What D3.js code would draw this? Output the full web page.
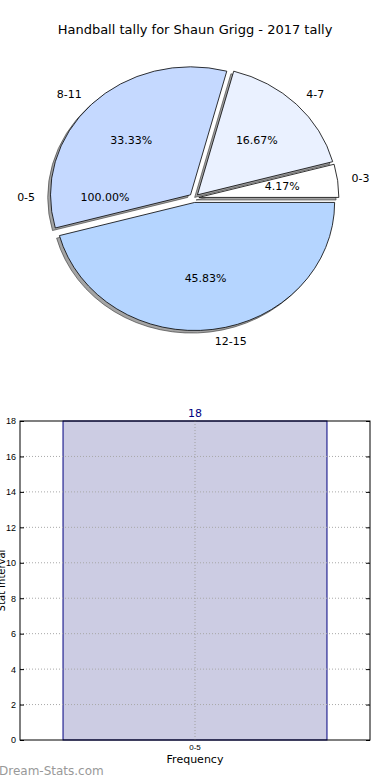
<!DOCTYPE html>
<html>
<head>
<meta charset="utf-8">
<script src="https://cdn.jsdelivr.net/npm/d3@7"></script>
<style>
  body { margin: 0; background: #fff; }
  svg { display: block; font-family: "DejaVu Sans", sans-serif; }
</style>
</head>
<body>
<svg id="svg" width="390" height="780"></svg>
<script>
// pie data
const title = "Handball tally for Shaun Grigg - 2017 tally";
const pieLabels = ["0-3", "4-7", "8-11", "12-15"];
const pieCounts = [1, 4, 8, 11];
const pieColors = ["#ffffff", "#eaf1ff", "#c5d9ff", "#b5d5ff"];
// second (empty) pie that only leaves its text behind
const ghostLabels = ["0-5"];
const ghostCounts = [18];

// bar data
const barCategories = ["0-5"];
const barValues = [18];
const yTicks = [0, 2, 4, 6, 8, 10, 12, 14, 16, 18];

let svg = d3.select("#svg");
let width = +svg.attr("width");

svg.append("text")
  .attr("x", width / 2)
  .attr("y", 30)
  .attr("text-anchor", "middle")
  .attr("dominant-baseline", "middle")
  .style("font-size", "13px")
  .text(title);

// pie geometry: stretched like the original (no equal aspect)
const cx = 194, cy = 198, rx = 140, ry = 128;
const explode = 0.035;

// angles run counter-clockwise from 3 o'clock like matplotlib
let pie = d3.pie().sort(null).startAngle(Math.PI / 2).endAngle(Math.PI / 2 - 2 * Math.PI);
let arc = d3.arc().innerRadius(0).outerRadius(1);

function pieLayer(counts, labels) {
  let total = d3.sum(counts);
  return pie(counts).map((d, i) => {
    let m = (d.startAngle + d.endAngle) / 2;
    let ux = Math.sin(m), uy = -Math.cos(m);
    return {
      arc: d,
      label: labels[i],
      pct: (100 * counts[i] / total).toFixed(2) + "%",
      ox: cx + explode * rx * ux,
      oy: cy + explode * ry * uy,
      ux: ux,
      uy: uy,
      i: i
    };
  });
}

let slices = pieLayer(pieCounts, pieLabels);
let ghost = pieLayer(ghostCounts, ghostLabels);

// shadows under every wedge
svg.append("g")
  .selectAll("path")
  .data(slices)
  .enter()
  .append("path")
  .attr("transform", (d) => `translate(${d.ox - 0.02 * rx},${d.oy + 0.02 * ry}) scale(${rx},${ry})`)
  .attr("d", (d) => arc(d.arc))
  .style("fill", "#4a4a4a")
  .style("fill-opacity", 0.5)
  .style("stroke", "#333")
  .style("stroke-opacity", 0.6)
  .attr("vector-effect", "non-scaling-stroke");

svg.append("g")
  .selectAll("path")
  .data(slices)
  .enter()
  .append("path")
  .attr("transform", (d) => `translate(${d.ox},${d.oy}) scale(${rx},${ry})`)
  .attr("d", (d) => arc(d.arc))
  .style("fill", (d) => pieColors[d.i])
  .style("stroke", "#000")
  .style("stroke-width", 0.8)
  .attr("vector-effect", "non-scaling-stroke");

let allText = slices.concat(ghost);

// category labels at 1.1 radius
svg.append("g")
  .selectAll("text")
  .data(allText)
  .enter()
  .append("text")
  .attr("x", (d) => d.ox + 1.1 * rx * d.ux)
  .attr("y", (d) => d.oy + 1.1 * ry * d.uy)
  .attr("text-anchor", (d) => (d.ux > 0 ? "start" : "end"))
  .attr("dominant-baseline", "middle")
  .style("font-size", "11px")
  .text((d) => d.label);

// percentages at 0.6 radius
svg.append("g")
  .selectAll("text")
  .data(allText)
  .enter()
  .append("text")
  .attr("x", (d) => d.ox + 0.6 * rx * d.ux)
  .attr("y", (d) => d.oy + 0.6 * ry * d.uy)
  .attr("text-anchor", "middle")
  .attr("dominant-baseline", "middle")
  .style("font-size", "11px")
  .text((d) => d.pct);

// bar chart
const plotLeft = 20, plotRight = 370, plotTop = 421, plotBottom = 740;
let x = d3.scaleBand().domain(barCategories).range([plotLeft, plotRight]).paddingInner(0).paddingOuter(0.163);
let y = d3.scaleLinear().domain([0, 18]).range([plotBottom, plotTop]);

svg.append("g")
  .selectAll("rect")
  .data(barValues)
  .enter()
  .append("rect")
  .attr("x", (_, i) => x(barCategories[i]))
  .attr("y", (d) => y(d))
  .attr("width", x.bandwidth())
  .attr("height", (d) => y(0) - y(d))
  .style("fill", "#ccccE3")
  .style("stroke", "#000080")
  .style("stroke-width", 1);

// dotted grid drawn over the bar
let grid = svg.append("g");
grid.selectAll("line.h")
  .data(yTicks.filter((t) => t > 0 && t < 18))
  .enter()
  .append("line")
  .attr("x1", plotLeft).attr("x2", plotRight)
  .attr("y1", (d) => y(d)).attr("y2", (d) => y(d))
  .style("stroke", "#a8a8a8")
  .style("stroke-dasharray", "1,2");
grid.selectAll("line.v")
  .data(barCategories)
  .enter()
  .append("line")
  .attr("x1", (d) => x(d) + x.bandwidth() / 2)
  .attr("x2", (d) => x(d) + x.bandwidth() / 2)
  .attr("y1", plotTop).attr("y2", plotBottom)
  .style("stroke", "#a0a0a0")
  .style("stroke-dasharray", "1,2");

svg.append("g")
  .selectAll("text")
  .data(barValues)
  .enter()
  .append("text")
  .attr("x", (_, i) => x(barCategories[i]) + x.bandwidth() / 2)
  .attr("y", (d) => y(d) - 4)
  .attr("text-anchor", "middle")
  .style("font-size", "11px")
  .style("fill", "#000080")
  .text((d) => d);

// axes
let yAxis = d3.axisLeft(y).tickValues(yTicks).tickSize(-4).tickPadding(4);
let ya = svg.append("g").attr("transform", `translate(${plotLeft},0)`).call(yAxis);
ya.select(".domain").remove();
ya.selectAll("text").style("font-size", "9px").attr("x", -4);
let yr = svg.append("g").attr("transform", `translate(${plotRight},0)`).call(d3.axisRight(y).tickValues(yTicks).tickSize(-4).tickFormat(""));
yr.select(".domain").remove();

let xAxis = d3.axisBottom(x).tickSize(0).tickPadding(4);
let xa = svg.append("g").attr("transform", `translate(0,${plotBottom})`).call(xAxis);
xa.select(".domain").remove();
xa.selectAll("text").style("font-size", "8px");

svg.append("rect")
  .attr("x", plotLeft).attr("y", plotTop)
  .attr("width", plotRight - plotLeft).attr("height", plotBottom - plotTop)
  .style("fill", "none")
  .style("stroke", "#000")
  .style("stroke-width", 1);

svg.append("text")
  .attr("x", (plotLeft + plotRight) / 2)
  .attr("y", 760)
  .attr("text-anchor", "middle")
  .attr("dominant-baseline", "middle")
  .style("font-size", "11px")
  .text("Frequency");

// y label sits mostly off the left edge, as in the original
svg.append("text")
  .attr("transform", `translate(5,${(plotTop + plotBottom) / 2}) rotate(-90)`)
  .attr("text-anchor", "middle")
  .style("font-size", "10px")
  .text("Stat Interval");

svg.append("text")
  .attr("x", -1)
  .attr("y", 775)
  .style("font-size", "12px")
  .style("fill", "#999")
  .text("Dream-Stats.com");
</script>
</body>
</html>
